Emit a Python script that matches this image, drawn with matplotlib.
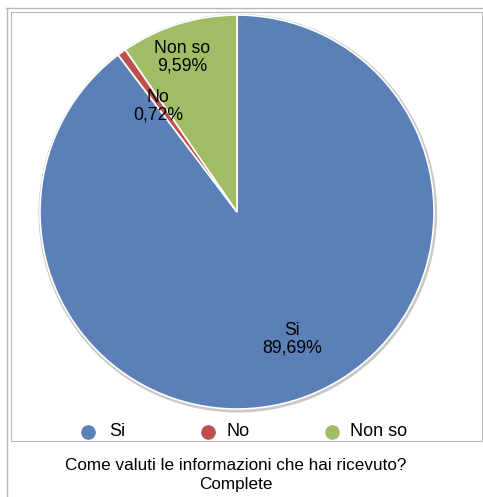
import matplotlib
matplotlib.use("Agg")
import matplotlib.pyplot as plt
from matplotlib.lines import Line2D
from matplotlib.patches import Circle

categories = ["Si", "No", "Non so"]
percentages = [89.69, 0.72, 9.59]
colors = ["#5a80b7", "#bd504c", "#a0bd65"]
title_lines = ["Come valuti le informazioni che hai ricevuto?", "Complete"]

W, H = 483, 497
fig = plt.figure(figsize=(W / 100, H / 100), dpi=100)
fig.patch.set_facecolor("white")
plt.rcParams["font.family"] = ["Liberation Sans", "DejaVu Sans"]


def fx(px):
    return px / W


def fy(py):
    return 1 - py / H


# frame lines
frame_col = "#b8b8b8"
fig.add_artist(Line2D([fx(6), fx(483)], [fy(8), fy(8)], color=frame_col, lw=1.0, transform=fig.transFigure))
fig.add_artist(Line2D([fx(7), fx(7)], [fy(8), fy(497)], color=frame_col, lw=1.0, transform=fig.transFigure))
fig.add_artist(Line2D([fx(11), fx(482), fx(482), fx(11), fx(11)],
                      [fy(12), fy(12), fy(441), fy(441), fy(12)],
                      color=frame_col, lw=0.8, transform=fig.transFigure))

# pie axes
cx, cy, r = 237, 212, 197
half = 205
ax = fig.add_axes([fx(cx - half), fy(cy + half), 2 * half / W, 2 * half / H])

# soft shadow rim
ax.add_patch(Circle((0.004, -0.006), 1.008, color="#c8c8c8", zorder=0))

wedges, _ = ax.pie(percentages, colors=colors, startangle=90, counterclock=False,
                   radius=1.0, wedgeprops=dict(edgecolor="white", linewidth=1.2),
                   frame=False)
for w in wedges:
    w.set_zorder(1)

ax.set_xlim(-half / r, half / r)
ax.set_ylim(-half / r, half / r)
ax.set_aspect("equal")
ax.axis("off")

# slice labels
label_pos = {"Si": (292, 339), "No": (158, 106), "Non so": (182, 57)}
for cat, pct in zip(categories, percentages):
    px, py = label_pos[cat]
    txt = f"{cat}\n{pct:.2f}%".replace(".", ",")
    fig.text(fx(px), fy(py), txt, ha="center", va="center", fontsize=12.7,
             linespacing=1.05, color="black", zorder=5)

# legend
leg_marker_x = [88, 208, 332]
leg_text_x = [109, 227, 350]
leg_y = 432
for cat, col, mx, tx in zip(categories, colors, leg_marker_x, leg_text_x):
    fig.add_artist(Line2D([fx(mx)], [fy(leg_y)], marker="o", markersize=9.5,
                          color=col, lw=0, transform=fig.transFigure))
    fig.text(fx(tx), fy(leg_y), cat, ha="left", va="center", fontsize=13)

# title
fig.text(fx(236), fy(466), title_lines[0], ha="center", va="center", fontsize=12.3)
fig.text(fx(236), fy(484), title_lines[1], ha="center", va="center", fontsize=12.3)

fig.savefig("out.png", dpi=100, facecolor="white")
